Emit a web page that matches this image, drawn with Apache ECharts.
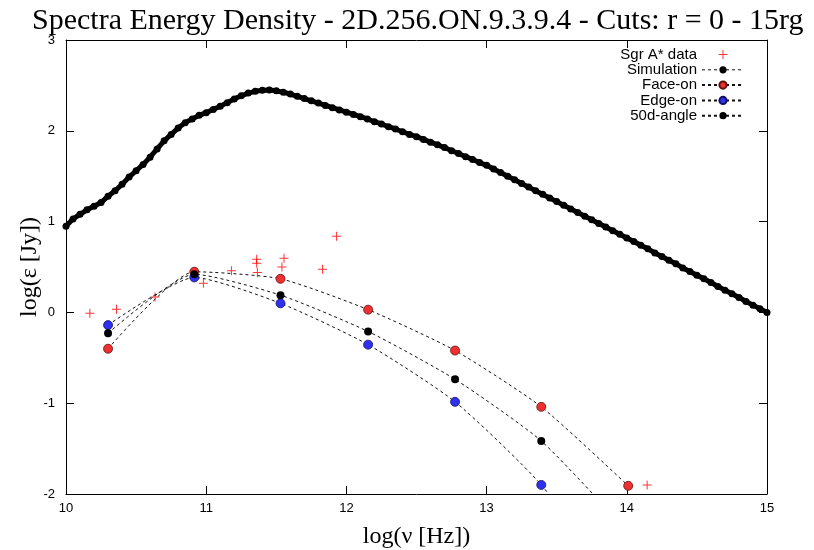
<!DOCTYPE html>
<html>
<head>
<meta charset="utf-8">
<script src="https://cdn.jsdelivr.net/npm/echarts@6/dist/echarts.min.js"></script>
<style>html,body{margin:0;padding:0;background:#fff;}#c{width:814px;height:550px;}</style>
</head>
<body>
<div id="c"></div>
<script>
// ---- data ----
const titleText = 'Spectra Energy Density - 2D.256.ON.9.3.9.4 - Cuts: r = 0 - 15rg';
const xTicks = [10, 11, 12, 13, 14, 15];
const yTicks = [-2, -1, 0, 1, 2, 3];

const simNu = [10.00,10.05,10.10,10.15,10.20,10.25,10.30,10.35,10.40,10.45,10.50,10.55,10.60,10.65,10.70,10.75,10.80,10.85,10.90,10.95,
  11.00,11.05,11.10,11.15,11.20,11.25,11.30,11.35,11.40,11.45,11.50,11.55,11.60,11.65,11.70,11.75,11.80,11.85,11.90,11.95,
  12.00,12.05,12.10,12.15,12.20,12.25,12.30,12.35,12.40,12.45,12.50,12.55,12.60,12.65,12.70,12.75,12.80,12.85,12.90,12.95,
  13.00,13.05,13.10,13.15,13.20,13.25,13.30,13.35,13.40,13.45,13.50,13.55,13.60,13.65,13.70,13.75,13.80,13.85,13.90,13.95,
  14.00,14.05,14.10,14.15,14.20,14.25,14.30,14.35,14.40,14.45,14.50,14.55,14.60,14.65,14.70,14.75,14.80,14.85,14.90,14.95,15.00];
const simFlux = [0.95,1.03,1.08,1.13,1.17,1.21,1.28,1.34,1.41,1.49,1.56,1.63,1.71,1.80,1.89,1.96,2.03,2.09,2.13,2.17,
  2.20,2.235,2.27,2.31,2.35,2.385,2.415,2.435,2.447,2.45,2.44,2.425,2.405,2.38,2.355,2.33,2.305,2.28,2.255,2.23,
  2.205,2.18,2.155,2.13,2.10,2.075,2.045,2.02,1.99,1.96,1.935,1.905,1.875,1.845,1.815,1.78,1.75,1.715,1.685,1.65,
  1.62,1.58,1.54,1.50,1.46,1.42,1.38,1.34,1.30,1.26,1.22,1.18,1.14,1.10,1.06,1.02,0.98,0.94,0.90,0.86,
  0.82,0.78,0.74,0.70,0.655,0.615,0.575,0.535,0.49,0.45,0.41,0.37,0.33,0.285,0.245,0.205,0.165,0.12,0.08,0.04,0.00];

const modelNu = [10.30, 10.915, 11.53, 12.155, 12.775, 13.39, 14.01];
const faceOn  = [-0.40, 0.448, 0.37, 0.03, -0.42, -1.04, -1.91];
const edgeOn  = [-0.14, 0.385, 0.10, -0.355, -0.985, -1.90, -3.2];
const angle50 = [-0.23, 0.42, 0.19, -0.21, -0.737, -1.416, -2.42];

const sgrNu   = [10.17, 10.36, 10.635, 10.98, 11.18, 11.36, 11.36, 11.365, 11.555, 11.54, 11.83, 11.93, 14.145];
const sgrFlux = [-0.01, 0.035, 0.17, 0.32, 0.46, 0.585, 0.54, 0.44, 0.595, 0.50, 0.475, 0.84, -1.90];

// ---- build chart ----
const pairs = (xs, ys) => xs.map((x, i) => [x, ys[i]]);
const sans = 'Liberation Sans';
const serif = 'Liberation Serif';
const dash = { type: [3, 3], width: 1, color: '#111' };
const plusPath = 'path://M4,0h1v4h4v1h-4v4h-1v-4h-4v-1h4z';

const chart = echarts.init(document.getElementById('c'), null, { renderer: 'canvas' });

const axisCommon = {
  axisLine: { show: true, onZero: false, lineStyle: { color: '#000', width: 1 } },
  axisTick: { show: true, inside: true, length: 8, lineStyle: { color: '#000' } },
  splitLine: { show: false },
  nameMoveOverlap: false
};

chart.setOption({
  animation: false,
  backgroundColor: '#fff',
  title: {
    text: titleText, left: 27, top: 1,
    textStyle: { fontFamily: serif, fontSize: 30, fontWeight: 'normal', color: '#000' }
  },
  grid: { left: 66, right: 47, top: 40, bottom: 56, show: false, outerBoundsMode: 'none', containLabel: false },
  legend: {
    orient: 'vertical', align: 'right', right: 64, top: 42,
    itemWidth: 42, itemHeight: 9, itemGap: 0.3,
    textStyle: { fontFamily: sans, fontSize: 15, color: '#000', lineHeight: 15 },
    data: [
      'Sgr A* data',
      { name: 'Simulation', lineStyle: { type: [3, 3], width: 1, color: '#111' } },
      'Face-on', 'Edge-on', '50d-angle'
    ]
  },
  xAxis: [
    Object.assign({}, axisCommon, {
      type: 'value', min: 10, max: 15, interval: 1, position: 'bottom',
      axisLabel: { fontFamily: sans, fontSize: 13, color: '#000', margin: 8,
        formatter: v => xTicks.includes(v) ? String(v) : '' },
      name: 'log(ν [Hz])', nameLocation: 'middle', nameGap: 31,
      nameTextStyle: { fontFamily: serif, fontSize: 24, color: '#000' }
    }),
    Object.assign({}, axisCommon, {
      type: 'value', min: 10, max: 15, interval: 1, position: 'top',
      axisLabel: { show: false }
    })
  ],
  yAxis: [
    Object.assign({}, axisCommon, {
      type: 'value', min: -2, max: 3, interval: 1, position: 'left',
      axisLabel: { fontFamily: sans, fontSize: 13, color: '#000', margin: 11,
        formatter: v => yTicks.includes(v) ? String(v) : '' },
      name: 'log(ε [Jy])', nameLocation: 'middle', nameGap: 24, nameRotate: 90,
      nameTextStyle: { fontFamily: serif, fontSize: 24, color: '#000' }
    }),
    Object.assign({}, axisCommon, {
      type: 'value', min: -2, max: 3, interval: 1, position: 'right',
      axisLabel: { show: false }
    })
  ],
  series: [
    {
      name: 'Sgr A* data', type: 'scatter', data: pairs(sgrNu, sgrFlux),
      symbol: plusPath, symbolSize: 9, itemStyle: { color: '#ff0000' }
    },
    {
      name: 'Simulation', type: 'line', data: pairs(simNu, simFlux),
      symbol: 'circle', symbolSize: 7, showSymbol: true, showAllSymbol: true,
      itemStyle: { color: '#000' }, lineStyle: { type: 'solid', width: 5, color: '#000' }
    },
    {
      name: 'Face-on', type: 'line', data: pairs(modelNu, faceOn), smooth: 0.2,
      symbol: 'circle', symbolSize: 9,
      itemStyle: { color: '#f03030', borderColor: '#601010', borderWidth: 0.8 }, lineStyle: dash
    },
    {
      name: 'Edge-on', type: 'line', data: pairs(modelNu, edgeOn), smooth: 0.2,
      symbol: 'circle', symbolSize: 9,
      itemStyle: { color: '#3030f0', borderColor: '#101060', borderWidth: 0.8 }, lineStyle: dash
    },
    {
      name: '50d-angle', type: 'line', data: pairs(modelNu, angle50), smooth: 0.2,
      symbol: 'circle', symbolSize: 8,
      itemStyle: { color: '#000' }, lineStyle: dash
    }
  ]
});
</script>
</body>
</html>
